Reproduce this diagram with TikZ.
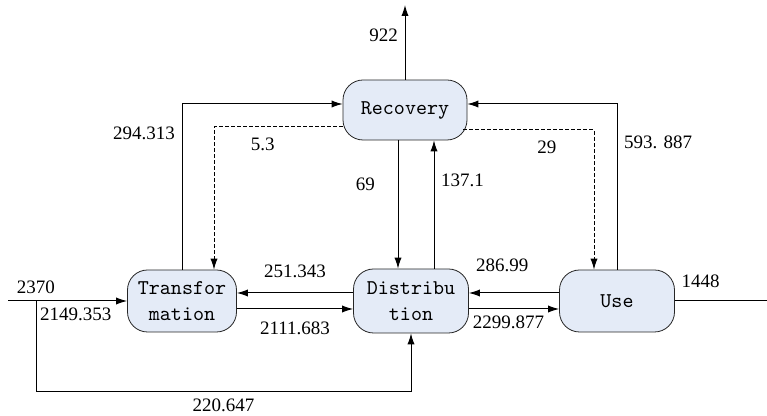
\documentclass[tikz,border=0pt]{standalone}
\usepackage{fontspec}
\setmainfont{Liberation Serif}
\usepackage{xcolor}
\usepackage{tikz}
\usetikzlibrary{shapes,arrows.meta,positioning}
\definecolor{boxblue}{RGB}{228,235,247}

\begin{document}
\begin{tikzpicture}[
    node distance=114.5pt,
    block/.style={
        rectangle,
        draw=black!85,
        fill=boxblue,
        rounded corners=10pt,
        align=center,
        inner sep=1pt,
        font=\ttfamily\fontsize{10.5}{13}\selectfont
    },
    num/.style={
        font=\fontsize{9.5}{11}\selectfont
    },
    plain/.style={
        draw, line width=0.5pt
    },
    line/.style={
        plain, -{Latex[length=5.5pt,width=3.6pt]}
    },
    dline/.style={
        line, dash pattern=on 2pt off 1pt
    }
]
    \useasboundingbox (0,0) rectangle (383.5pt,-208pt);

    % Nodes
    \node [block, minimum width=54.5pt, minimum height=31pt] (trans) at (91pt,-150.5pt) {Transfor\\mation};
    \node [block, right of=trans, minimum width=57.5pt, minimum height=32pt] (dist) {Distribu\\tion};
    \node [block, right of=dist, node distance=103pt, minimum width=57.5pt, minimum height=31pt] (use) {Use};
    \node [block, above of=dist, node distance=95.5pt, xshift=-3pt, minimum width=62pt, minimum height=30pt] (rec) {Recovery};
    \coordinate (in) at (4pt,-150.5pt);
    \coordinate (split) at (18pt,-150.5pt);
    \coordinate (out) at (383.5pt,-150.5pt);
    \coordinate (top) at (0pt,-2.5pt);

    % Edges
    \path [line] (in) -- node [num, above, pos=0.234] {2370} node [num, below right, pos=0.234, xshift=-1.5pt] {2149.353} (trans.west);
    \path [line] (split) -- ++(0,-45.5pt) -| node [num, below, pos=0.25] {220.647} (dist.south);
    \path [line] ([yshift=-4pt]trans.east) -- node [num, below=3pt] {2111.683} ([yshift=-4pt]dist.west);
    \path [line] ([yshift=4pt]dist.west) -- node [num, above=4pt] {251.343} ([yshift=4pt]trans.east);
    \path [line] ([yshift=-4pt]dist.east) -- node [num, below=0pt, pos=0.44] {2299.877} ([yshift=-4pt]use.west);
    \path [line] ([yshift=4pt]use.west) -- node [num, above=7pt, pos=0.63] {286.99} ([yshift=4pt]dist.east);
    \path [plain] (use.east) -- node [num, above=3pt, pos=0.28] {1448} (out);
    \path [line] (trans.north) |- node [num, left, pos=0.41] {294.313} ([yshift=3pt]rec.west);
    \path [dline] ([yshift=-8.5pt]rec.west) -| node [num, below=2pt, pos=0.31] {5.3} ([xshift=16pt]trans.north);
    \path [line] (use.north) |- node [num, right, pos=0.385] {593. 887} ([yshift=3pt]rec.east);
    \path [dline] ([xshift=-2pt,yshift=-10pt]rec.east) -| node [num, below=2pt, pos=0.32] {29} ([xshift=-11.5pt]use.north);
    \path [line] ([xshift=-3.5pt]rec.south) -- node [num, left=8pt, pos=0.34] {69} ([xshift=-3.5pt]rec.south |- dist.north);
    \path [line] ([xshift=11.5pt]dist.north) -- node [num, right, pos=0.69] {137.1} ([xshift=11.5pt]dist.north |- rec.south);
    \path [line] (rec.north) -- node [num, left, pos=0.59] {922} (rec.north |- top);

\end{tikzpicture}
\end{document}
